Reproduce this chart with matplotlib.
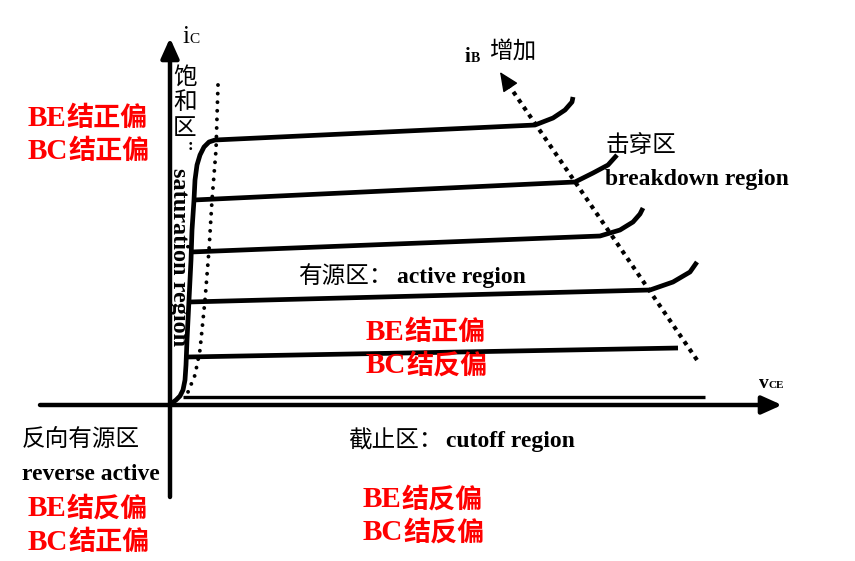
# BJT 输出特性曲线示意图
import matplotlib.pyplot as plt

SERIF = 'Liberation Serif'
CJK = 'Noto Sans CJK SC'

# 饱和区曲线 + 最上面一条 iB 曲线 (vCE, iC)
top_v = [2, 6, 10, 13, 15, 16, 17, 19, 21, 22, 24, 25, 27, 30, 34, 39, 45,
         365, 383, 395, 402, 403]
top_i = [2, 5, 9, 15, 25, 40, 65, 105, 145, 175, 205, 225, 240, 250, 258, 263, 265,
         280, 287, 295, 303, 308]

# 其余 iB 曲线
ib2_v = [24, 405, 423, 438, 447]
ib2_i = [205, 223, 232, 240, 250]
ib3_v = [21, 430, 450, 463, 470, 473]
ib3_i = [153, 169, 175, 183, 191, 197]
ib4_v = [19, 480, 503, 520, 527]
ib4_i = [103, 115, 123, 133, 143]
ib5_v = [17, 508]
ib5_i = [48, 57]
cut_v = [13, 535]
cut_i = [8, 8]

# 饱和区边界 (点线)
sat_v = [48, 46, 42, 39, 35, 30, 25, 18]
sat_i = [320, 255, 205, 155, 105, 55, 30, 13]

# iB 增加方向
ibdir_v = [527, 338]
ibdir_i = [45, 321]
ibtip = (330, 333)

fig = plt.figure(figsize=(8.55, 5.61), dpi=100)
ax = fig.add_axes([0, 0, 1, 1])
ax.set_xlim(-170, 685)
ax.set_ylim(-156, 405)
ax.axis('off')

# 坐标轴
arr = dict(arrowstyle='-|>,head_length=0.8,head_width=0.36', mutation_scale=15,
           lw=3.2, color='k', shrinkA=0, shrinkB=0)
ax.annotate('', xy=(612, 0), xytext=(-130, 0), arrowprops=arr)
ax.annotate('', xy=(0, 367), xytext=(0, -92), arrowprops=arr)

# 曲线
for v, i in [(top_v, top_i), (ib2_v, ib2_i), (ib3_v, ib3_i), (ib4_v, ib4_i), (ib5_v, ib5_i)]:
    ax.plot(v, i, color='k', lw=3.4, solid_capstyle='butt', solid_joinstyle='round')
ax.plot(cut_v, cut_i, color='k', lw=2.4, solid_capstyle='butt')

ax.plot(sat_v, sat_i, color='k', lw=2.8, linestyle=(0, (0.01, 2.2)), dash_capstyle='round')
ax.plot(ibdir_v, ibdir_i, color='k', lw=3, linestyle=(0, (1, 1.2)))
ax.annotate('', xy=ibtip, xytext=(ibdir_v[1], ibdir_i[1]),
            arrowprops=dict(arrowstyle='-|>,head_length=1.0,head_width=0.45',
                            mutation_scale=12, lw=1, color='k', shrinkA=0, shrinkB=0))

# 文字
fig.canvas.draw()
renderer = fig.canvas.get_renderer()
inv = ax.transData.inverted()


def pair(x, y, en, zh, en_kw, zh_kw):
    t = ax.text(x, y, en, va='baseline', ha='left', **en_kw)
    bb = t.get_window_extent(renderer)
    x2 = inv.transform((bb.x1, bb.y0))[0]
    ax.text(x2, y, zh, va='baseline', ha='left', **zh_kw)


red_en = dict(fontfamily=SERIF, weight='bold', fontsize=21, color='red')
red_zh = dict(fontfamily=CJK, weight='bold', fontsize=19.5, color='red')
for x, y, en, zh in [(-142, 279, 'BE', '结正偏'), (-142, 246, 'BC', '结正偏'),
                     (196, 65, 'BE', '结正偏'), (196, 32, 'BC', '结反偏'),
                     (-142, -111, 'BE', '结反偏'), (-142, -145, 'BC', '结正偏'),
                     (193, -102, 'BE', '结反偏'), (193, -135, 'BC', '结反偏')]:
    pair(x, y, en, zh, red_en, red_zh)

en_kw = dict(fontfamily=SERIF, weight='bold', fontsize=17, color='k')
zh_kw = dict(fontfamily=CJK, fontsize=17, color='k')

# 轴标签
pair(12, 362, 'i', 'C', dict(fontfamily=SERIF, fontsize=18, color='k'),
     dict(fontfamily=SERIF, fontsize=11, color='k'))
pair(589, 17, 'v', 'CE', dict(fontfamily=SERIF, weight='bold', fontsize=14, color='k'),
     dict(fontfamily=SERIF, weight='bold', fontsize=8, color='k'))
pair(295, 343, 'i', 'B', dict(fontfamily=SERIF, weight='bold', fontsize=15, color='k'),
     dict(fontfamily=SERIF, weight='bold', fontsize=10, color='k'))
ax.text(319, 353, '增加', va='center', ha='left', **zh_kw)

# 区域名称
ax.text(435, 260, '击穿区', va='center', ha='left', **zh_kw)
ax.text(435, 220, 'breakdown region', va='baseline', ha='left', **en_kw)
ax.text(128, 122, '有源区：', va='baseline', ha='left', **zh_kw)
ax.text(227, 122, 'active region', va='baseline', ha='left', **en_kw)
ax.text(178, -42, '截止区：', va='baseline', ha='left', **zh_kw)
ax.text(276, -42, 'cutoff region', va='baseline', ha='left', **en_kw)
ax.text(-148, -35, '反向有源区', va='center', ha='left', **zh_kw)
ax.text(-148, -75, 'reverse active', va='baseline', ha='left', **en_kw)

for y, ch in [(328, '饱'), (303, '和'), (277, '区')]:
    ax.text(15, y, ch, va='center', ha='center', **zh_kw)
ax.text(20, 259, ':', va='center', ha='center', fontfamily=SERIF, weight='bold', fontsize=12)
ax.text(8, 148, 'saturation region', rotation=-90, va='center', ha='center',
        fontfamily=SERIF, weight='bold', fontsize=17.5, color='k')

fig.savefig('out.png', dpi=100)
